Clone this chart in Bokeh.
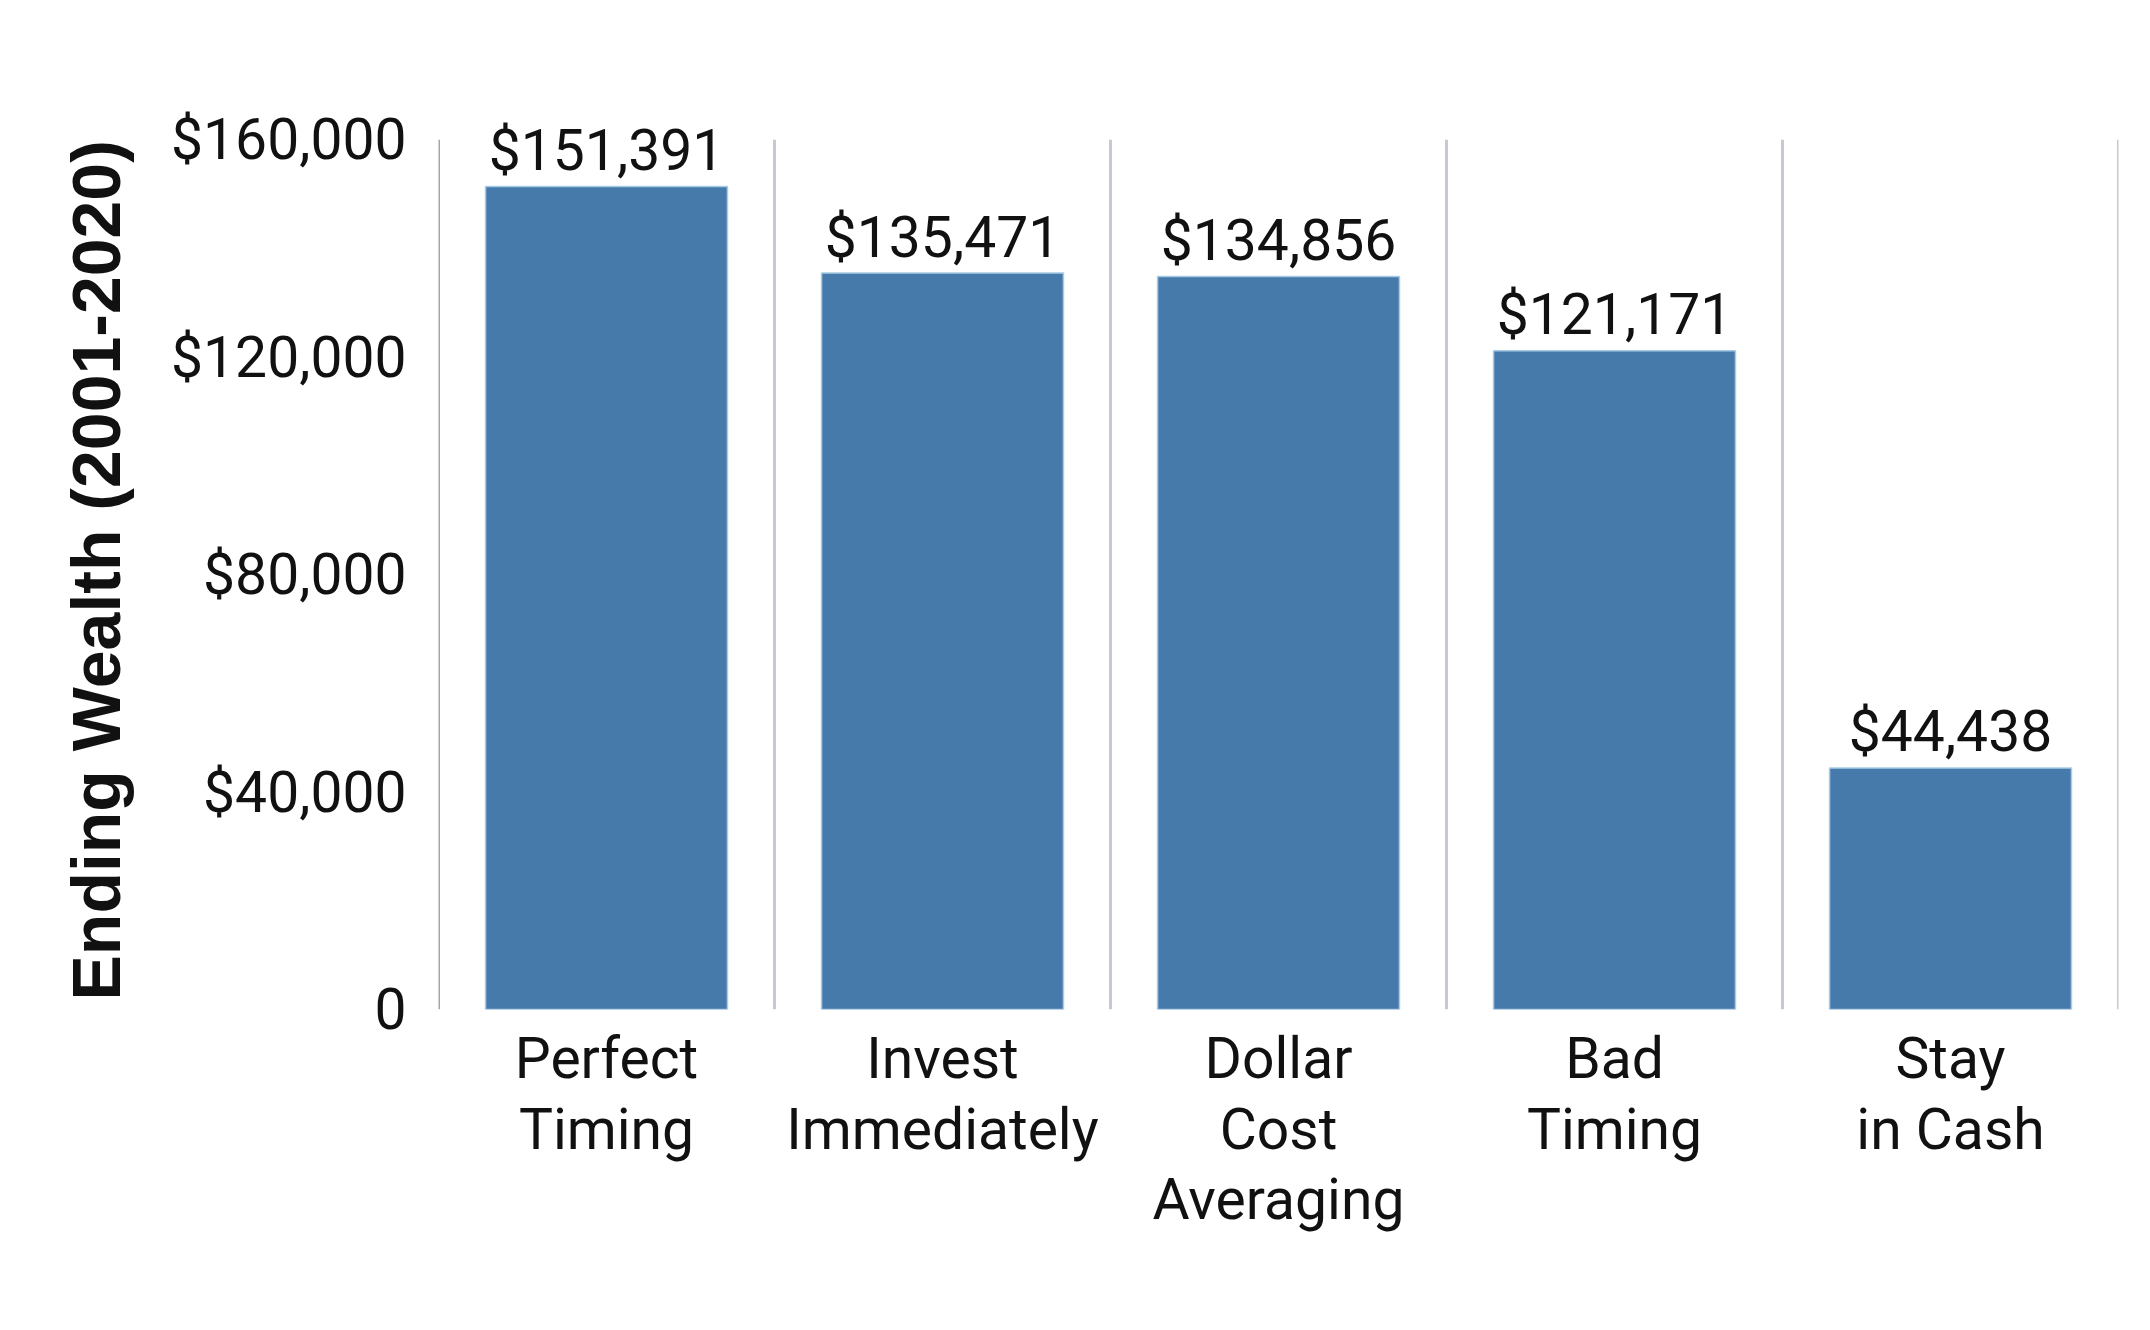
from bokeh.plotting import figure
from bokeh.models import (ColumnDataSource, Range1d, FactorRange, FixedTicker,
                          CategoricalAxis, CustomJSTickFormatter)
from bokeh.embed import file_html
from bokeh.resources import INLINE
from bokeh.core.properties import value

categories = ["Perfect Timing", "Invest Immediately", "Dollar Cost Averaging", "Bad Timing", "Stay in Cash"]
label_line1 = ["Perfect", "Invest", "Dollar", "Bad", "Stay"]
label_line2 = ["Timing", "Immediately", "Cost", "Timing", "in Cash"]
label_line3 = ["", "", "Averaging", "", ""]
ending_wealth = [151391, 135471, 134856, 121171, 44438]
value_labels = ["$151,391", "$135,471", "$134,856", "$121,171", "$44,438"]
tick_values = [0, 40000, 80000, 120000, 160000]
tick_labels = ["0", "$40,000", "$80,000", "$120,000", "$160,000"]
y_title = "Ending Wealth (2001-2020)"

FONT = "Roboto"
BAR = "#467aab"
TXT = "#111111"

src = ColumnDataSource(dict(cat=categories, val=ending_wealth, lab=value_labels))

p = figure(width=2134, height=1314, output_backend="svg", toolbar_location=None,
           x_range=FactorRange(factors=categories, range_padding=0),
           y_range=Range1d(0, 172000),
           min_border_left=438, min_border_right=16, min_border_top=74, min_border_bottom=305)
p.outline_line_color = None
p.xgrid.visible = False
p.ygrid.visible = False
p.background_fill_color = "white"
p.border_fill_color = "white"

# separators between categories (category boundaries in synthetic coordinates)
n = len(categories)
sep_x = list(range(0, n + 1))
sep_src = ColumnDataSource(dict(x=sep_x, y0=[0] * (n + 1), y1=[tick_values[-1]] * (n + 1),
                                color=["#a3a7ad"] + ["#c5cad4"] * n))
p.segment(x0="x", y0="y0", x1="x", y1="y1", source=sep_src, line_color="color", line_width=3)

p.vbar(x="cat", top="val", bottom=0, width=0.72, source=src,
       fill_color=BAR, line_color="#a9cbe5", line_width=1.5)

p.text(x="cat", y="val", text="lab", source=src, text_align="center",
       text_baseline="alphabetic", y_offset=-36,
       text_font=value(FONT), text_font_size="57px", text_color=TXT)

# y axis
ya = p.yaxis[0]
ya.ticker = FixedTicker(ticks=tick_values)
ya.major_label_overrides = {v: l for v, l in zip(tick_values, tick_labels)}
ya.major_tick_line_color = None
ya.minor_tick_line_color = None
ya.axis_line_color = None
ya.major_label_text_font = FONT
ya.major_label_text_font_size = "57px"
ya.major_label_text_color = TXT
ya.major_label_standoff = 26
# trailing no-break spaces keep the title centred on the 0..160,000 span rather than the frame
ya.axis_label = y_title + "\u00a0\u00a0\u00a0"
ya.axis_label_text_font = "Liberation Sans"
ya.axis_label_text_font_style = "bold"
ya.axis_label_text_font_size = "68px"
ya.axis_label_text_color = TXT
ya.axis_label_standoff = 34

# x axis: one axis per text line
def style_x(ax, lines, standoff):
    ax.axis_line_color = None
    ax.major_tick_line_color = None
    ax.minor_tick_line_color = None
    ax.formatter = CustomJSTickFormatter(args=dict(cats=categories, lines=lines),
                                         code="const i = cats.indexOf(tick); return i >= 0 ? lines[i] : '';")
    ax.major_label_text_font = FONT
    ax.major_label_text_font_size = "57px"
    ax.major_label_text_color = TXT
    ax.major_label_standoff = standoff

style_x(p.xaxis[0], label_line1, 9)
ax2 = CategoricalAxis()
style_x(ax2, label_line2, -5)
p.add_layout(ax2, "below")
ax3 = CategoricalAxis()
style_x(ax3, label_line3, -6)
p.add_layout(ax3, "below")

open("out.html", "w").write(file_html(p, INLINE))
